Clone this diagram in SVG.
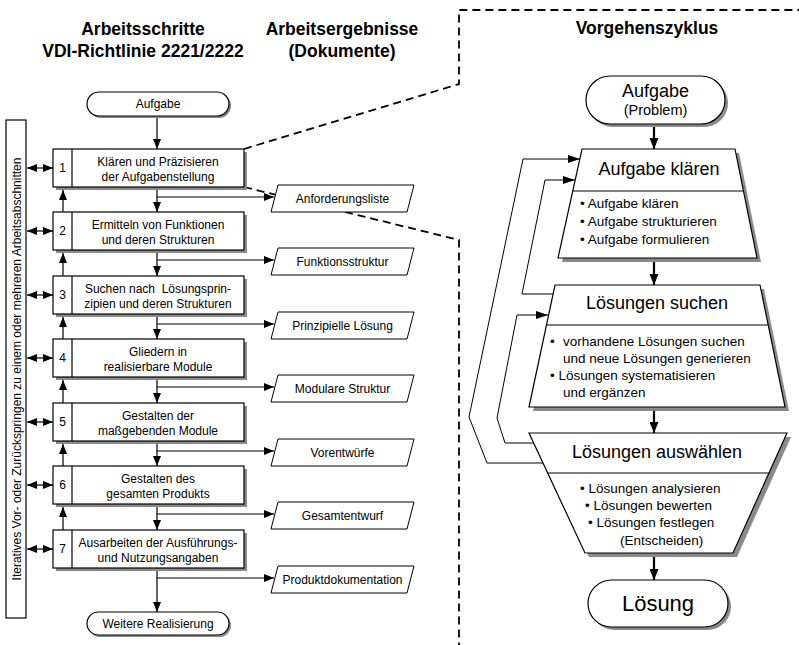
<svg xmlns="http://www.w3.org/2000/svg" width="799" height="645" viewBox="0 0 799 645">
  <style>
    text { font-family: "Liberation Sans", Arial, sans-serif; fill: #000; }
    .title { font-size: 17.5px; font-weight: bold; text-anchor: middle; }
    .s { font-size: 12px; }
    .c { text-anchor: middle; }
    .m { font-size: 13.5px; }
    .l { font-size: 18px; }
    .box { fill: #fff; stroke: #000; stroke-width: 1.2; }
    .shadow { fill: #8a8a8a; stroke: none; }
    .doc { fill: #fff; stroke: #000; stroke-width: 1; }
    .ln { fill: none; stroke: #000; stroke-width: 1.2; }
    .thick { fill: none; stroke: #000; stroke-width: 2.2; }
    .thin { fill: none; stroke: #000; stroke-width: 1; }
    .dash { fill: none; stroke: #000; stroke-width: 1.8; stroke-dasharray: 8 5; }
  </style>
  <defs>
    <marker id="ah" markerUnits="userSpaceOnUse" markerWidth="10" markerHeight="8" refX="10" refY="4" orient="auto-start-reverse">
      <path d="M0,0 L10,4 L0,8 z" fill="#000"/>
    </marker>
    <marker id="ahB" markerUnits="userSpaceOnUse" markerWidth="11" markerHeight="9" refX="11" refY="4.5" orient="auto">
      <path d="M0,0 L11,4.5 L0,9 z" fill="#000"/>
    </marker>
    <marker id="ahF" markerUnits="userSpaceOnUse" markerWidth="12" markerHeight="8" refX="12" refY="4" orient="auto">
      <path d="M0,0 L12,4 L0,8 z" fill="#000"/>
    </marker>
  </defs>

  <!-- column headings -->
  <text class="title" x="143" y="35">Arbeitsschritte</text>
  <text class="title" x="143" y="57">VDI-Richtlinie 2221/2222</text>
  <text class="title" x="342" y="35">Arbeitsergebnisse</text>
  <text class="title" x="342" y="57">(Dokumente)</text>
  <text class="title" x="647" y="34">Vorgehenszyklus</text>

  <!-- dashed boundary between the steps and the cycle -->
  <g id="boundary">
    <path class="dash" d="M244,149 L459,84 L459,10 L799,10"/>
    <path class="dash" d="M244,187 L459,240 L459,645"/>
  </g>

  <!-- connectors -->
  <g id="connectors">
    <!-- main flow down -->
    <line class="ln" x1="157" y1="117" x2="157" y2="149" marker-end="url(#ah)"/>
    <line class="ln" x1="157" y1="187" x2="157" y2="212" marker-end="url(#ah)"/>
    <line class="ln" x1="157" y1="250" x2="157" y2="276" marker-end="url(#ah)"/>
    <line class="ln" x1="157" y1="314" x2="157" y2="339" marker-end="url(#ah)"/>
    <line class="ln" x1="157" y1="377" x2="157" y2="403" marker-end="url(#ah)"/>
    <line class="ln" x1="157" y1="441" x2="157" y2="466" marker-end="url(#ah)"/>
    <line class="ln" x1="157" y1="504" x2="157" y2="530" marker-end="url(#ah)"/>
    <line class="ln" x1="157" y1="568" x2="157" y2="612" marker-end="url(#ah)"/>
    <!-- back steps up -->
    <line class="ln" x1="63" y1="212" x2="63" y2="190" marker-end="url(#ah)"/>
    <line class="ln" x1="63" y1="276" x2="63" y2="253" marker-end="url(#ah)"/>
    <line class="ln" x1="63" y1="339" x2="63" y2="317" marker-end="url(#ah)"/>
    <line class="ln" x1="63" y1="403" x2="63" y2="380" marker-end="url(#ah)"/>
    <line class="ln" x1="63" y1="466" x2="63" y2="444" marker-end="url(#ah)"/>
    <line class="ln" x1="63" y1="530" x2="63" y2="507" marker-end="url(#ah)"/>
    <!-- results out -->
    <line class="ln" x1="157" y1="197" x2="274" y2="197" marker-end="url(#ah)"/>
    <line class="ln" x1="157" y1="260" x2="274" y2="260" marker-end="url(#ah)"/>
    <line class="ln" x1="157" y1="324" x2="274" y2="324" marker-end="url(#ah)"/>
    <line class="ln" x1="157" y1="387" x2="274" y2="387" marker-end="url(#ah)"/>
    <line class="ln" x1="157" y1="451" x2="274" y2="451" marker-end="url(#ah)"/>
    <line class="ln" x1="157" y1="514" x2="274" y2="514" marker-end="url(#ah)"/>
    <line class="ln" x1="157" y1="578" x2="274" y2="578" marker-end="url(#ah)"/>
    <!-- iteration links -->
    <line class="ln" x1="27" y1="168" x2="53" y2="168" marker-start="url(#ah)" marker-end="url(#ah)"/>
    <line class="ln" x1="27" y1="231" x2="53" y2="231" marker-start="url(#ah)" marker-end="url(#ah)"/>
    <line class="ln" x1="27" y1="295" x2="53" y2="295" marker-start="url(#ah)" marker-end="url(#ah)"/>
    <line class="ln" x1="27" y1="358" x2="53" y2="358" marker-start="url(#ah)" marker-end="url(#ah)"/>
    <line class="ln" x1="27" y1="422" x2="53" y2="422" marker-start="url(#ah)" marker-end="url(#ah)"/>
    <line class="ln" x1="27" y1="485" x2="53" y2="485" marker-start="url(#ah)" marker-end="url(#ah)"/>
    <line class="ln" x1="27" y1="549" x2="53" y2="549" marker-start="url(#ah)" marker-end="url(#ah)"/>
    <!-- cycle -->
    <line class="thick" x1="654" y1="124" x2="654" y2="149" marker-end="url(#ahB)"/>
    <line class="thick" x1="654" y1="258" x2="654" y2="285" marker-end="url(#ahB)"/>
    <line class="thick" x1="654" y1="407" x2="654" y2="433" marker-end="url(#ahB)"/>
    <line class="thick" x1="654" y1="553" x2="654" y2="580" marker-end="url(#ahB)"/>
    <polyline class="thin" points="543,463 487,463 469,417 523,159 580,159" marker-end="url(#ahF)"/>
    <polyline class="thin" points="553,294 522,294 545,180 575,180" marker-end="url(#ahF)"/>
    <polyline class="thin" points="534,443 505,443 497,418 517,315 548,315" marker-end="url(#ahF)"/>
  </g>

  <!-- iteration bar -->
  <g id="iteration">
    <rect class="box" x="6" y="120" width="20" height="498"/>
    <text class="s c" transform="translate(21,369) rotate(-90)">Iteratives Vor- oder Zurückspringen zu einem oder mehreren Arbeitsabschnitten</text>
  </g>

  <!-- start / end -->
  <g id="start">
    <rect class="shadow" x="89" y="94" width="142" height="24" rx="12"/>
    <rect class="box" x="87" y="92" width="142" height="24" rx="12"/>
    <text class="s c" x="158" y="108">Aufgabe</text>
  </g>
  <g id="end">
    <rect class="shadow" x="89" y="614" width="142" height="23" rx="11.5"/>
    <rect class="box" x="87" y="612" width="142" height="23" rx="11.5"/>
    <text class="s c" x="158" y="628">Weitere Realisierung</text>
  </g>

  <!-- work steps -->
  <g id="step1">
    <rect class="shadow" x="56" y="152" width="191" height="38"/>
    <rect class="box" x="53" y="149" width="191" height="38"/>
    <line class="ln" x1="72" y1="149" x2="72" y2="187"/>
    <text class="s c" x="62.5" y="172">1</text>
    <text class="s c" x="158" y="166">Klären und Präzisieren</text>
    <text class="s c" x="158" y="181">der Aufgabenstellung</text>
  </g>
  <g id="step2">
    <rect class="shadow" x="56" y="215" width="191" height="38"/>
    <rect class="box" x="53" y="212" width="191" height="38"/>
    <line class="ln" x1="72" y1="212" x2="72" y2="250"/>
    <text class="s c" x="62.5" y="235">2</text>
    <text class="s c" x="158" y="229">Ermitteln von Funktionen</text>
    <text class="s c" x="158" y="244">und deren Strukturen</text>
  </g>
  <g id="step3">
    <rect class="shadow" x="56" y="279" width="191" height="38"/>
    <rect class="box" x="53" y="276" width="191" height="38"/>
    <line class="ln" x1="72" y1="276" x2="72" y2="314"/>
    <text class="s c" x="62.5" y="299">3</text>
    <text class="s c" x="158" y="293" xml:space="preserve">Suchen nach  Lösungsprin-</text>
    <text class="s c" x="158" y="308">zipien und deren Strukturen</text>
  </g>
  <g id="step4">
    <rect class="shadow" x="56" y="342" width="191" height="38"/>
    <rect class="box" x="53" y="339" width="191" height="38"/>
    <line class="ln" x1="72" y1="339" x2="72" y2="377"/>
    <text class="s c" x="62.5" y="362">4</text>
    <text class="s c" x="158" y="356">Gliedern in</text>
    <text class="s c" x="158" y="371">realisierbare Module</text>
  </g>
  <g id="step5">
    <rect class="shadow" x="56" y="406" width="191" height="38"/>
    <rect class="box" x="53" y="403" width="191" height="38"/>
    <line class="ln" x1="72" y1="403" x2="72" y2="441"/>
    <text class="s c" x="62.5" y="426">5</text>
    <text class="s c" x="158" y="420">Gestalten der</text>
    <text class="s c" x="158" y="435">maßgebenden Module</text>
  </g>
  <g id="step6">
    <rect class="shadow" x="56" y="469" width="191" height="38"/>
    <rect class="box" x="53" y="466" width="191" height="38"/>
    <line class="ln" x1="72" y1="466" x2="72" y2="504"/>
    <text class="s c" x="62.5" y="489">6</text>
    <text class="s c" x="158" y="483">Gestalten des</text>
    <text class="s c" x="158" y="498">gesamten Produkts</text>
  </g>
  <g id="step7">
    <rect class="shadow" x="56" y="533" width="191" height="38"/>
    <rect class="box" x="53" y="530" width="191" height="38"/>
    <line class="ln" x1="72" y1="530" x2="72" y2="568"/>
    <text class="s c" x="62.5" y="553">7</text>
    <text class="s c" x="158" y="547">Ausarbeiten der Ausführungs-</text>
    <text class="s c" x="158" y="562">und Nutzungsangaben</text>
  </g>

  <!-- documents -->
  <g id="doc1">
    <polygon class="doc" points="278,185 414,185 407,212 271,212"/>
    <text class="s c" x="342.5" y="203">Anforderungsliste</text>
  </g>
  <g id="doc2">
    <polygon class="doc" points="278,248 414,248 407,275 271,275"/>
    <text class="s c" x="342.5" y="266">Funktionsstruktur</text>
  </g>
  <g id="doc3">
    <polygon class="doc" points="278,312 414,312 407,339 271,339"/>
    <text class="s c" x="342.5" y="330">Prinzipielle Lösung</text>
  </g>
  <g id="doc4">
    <polygon class="doc" points="278,375 414,375 407,402 271,402"/>
    <text class="s c" x="342.5" y="393">Modulare Struktur</text>
  </g>
  <g id="doc5">
    <polygon class="doc" points="278,439 414,439 407,466 271,466"/>
    <text class="s c" x="342.5" y="457">Vorentwürfe</text>
  </g>
  <g id="doc6">
    <polygon class="doc" points="278,502 414,502 407,529 271,529"/>
    <text class="s c" x="342.5" y="520">Gesamtentwurf</text>
  </g>
  <g id="doc7">
    <polygon class="doc" points="278,566 414,566 407,593 271,593"/>
    <text class="s c" x="342.5" y="584">Produktdokumentation</text>
  </g>

  <!-- cycle -->
  <g id="problem">
    <rect class="shadow" x="589" y="79" width="139" height="48" rx="24"/>
    <rect class="box" x="586" y="76" width="139" height="48" rx="24"/>
    <text class="l c" x="655.5" y="97">Aufgabe</text>
    <text class="c" style="font-size:14.5px" x="655.5" y="115">(Problem)</text>
  </g>
  <g id="clarify">
    <polygon class="shadow" points="586,153 739,153 761,262 562,262"/>
    <polygon class="box" points="582,149 735,149 757,258 558,258"/>
    <line class="ln" x1="573" y1="191" x2="743.5" y2="191"/>
    <text class="l c" x="659" y="175">Aufgabe klären</text>
    <text class="m" x="580" y="208">• Aufgabe klären</text>
    <text class="m" x="580" y="226">• Aufgabe strukturieren</text>
    <text class="m" x="580" y="244">• Aufgabe formulieren</text>
  </g>
  <g id="search">
    <polygon class="shadow" points="559,289 764,289 789,411 533,411"/>
    <polygon class="box" points="555,285 760,285 785,407 529,407"/>
    <line class="ln" x1="546.5" y1="325" x2="768" y2="325"/>
    <text class="l c" x="657" y="309">Lösungen suchen</text>
    <text class="m" x="550" y="346">•<tspan x="563">vorhandene Lösungen suchen</tspan></text>
    <text class="m" x="563" y="363">und neue Lösungen generieren</text>
    <text class="m" x="550" y="380">• Lösungen systematisieren</text>
    <text class="m" x="563" y="397">und ergänzen</text>
  </g>
  <g id="select">
    <polygon class="shadow" points="533,437 791,437 737,557 589,557"/>
    <polygon class="box" points="529,433 787,433 733,553 585,553"/>
    <line class="ln" x1="547.5" y1="473" x2="769" y2="473"/>
    <text class="l c" x="657" y="458">Lösungen auswählen</text>
    <text class="m" x="580" y="493">• Lösungen analysieren</text>
    <text class="m" x="585" y="510">• Lösungen bewerten</text>
    <text class="m" x="588" y="527">• Lösungen festlegen</text>
    <text class="m" x="620" y="545">(Entscheiden)</text>
  </g>
  <g id="solution">
    <rect class="shadow" x="591" y="583" width="140" height="47" rx="23.5"/>
    <rect class="box" x="588" y="580" width="140" height="47" rx="23.5"/>
    <text class="c" style="font-size:22px" x="658" y="611">Lösung</text>
  </g>
</svg>
